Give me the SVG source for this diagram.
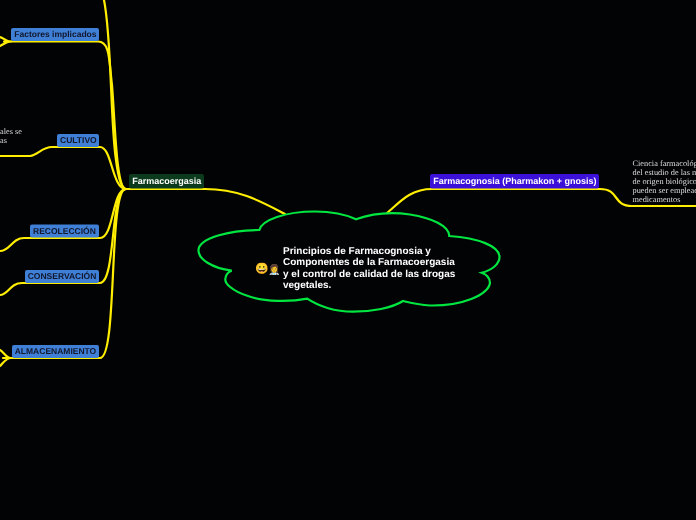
<svg xmlns="http://www.w3.org/2000/svg" width="696" height="520" viewBox="0 0 696 520" text-rendering="geometricPrecision">
<style>
.c{fill:none;stroke:#ffee00;stroke-width:2.2;stroke-linecap:round}
.l{fill:#3f7fd6}
.t{font-family:"Liberation Sans",Arial,sans-serif;font-size:9px;font-weight:700}
.d{fill:#12172b;font-size:8.5px}
.s{font-family:"Liberation Serif","Times New Roman",serif;font-size:8.3px;fill:#dcdcdc}
</style>
<defs><filter id="g" x="0" y="0" width="696" height="520" filterUnits="userSpaceOnUse"><feOffset dx="0" dy="0"/></filter></defs>
<rect width="696" height="520" fill="#020305"/>
<g id="connectors">
<path class="c" d="M104 0C112 40 110 120 116 160C118 176 121 189 126 189"/>
<path class="c" d="M11 41.500H98C110 41.500 109 60 112 85C115 120 116 189 126 189"/>
<path class="c" d="M0 156H30C38 155 42 147 52 147H100C112 147 112 189 126 189"/>
<path class="c" d="M0 251C10 251 12 238 24 238H100C114 238 112 189 126 189"/>
<path class="c" d="M0 295C8 295 10 283 22 283H100C116 283 110 189 126 189"/>
<path class="c" d="M11 358H100C118 358 108 189 126 189"/>
<path class="c" d="M126 189H205C240 189 262 202 285 214"/>
<path class="c" d="M387 213C400 202 410 189 432 189H600C620 189 612 206 632 206H696"/>
<path class="c" d="M11 41.500C6 41.500 4 38 0 37M11 41.500C6 41.500 4 44 0 46M11 41.500H4"/>
<path class="c" d="M11 358C6 358 4 352 0 350M11 358C6 358 4 362 0 366M11 358H3"/>
</g>
<g id="central">
<path d="M259.300 230C262 220 285 211.500 315 211.500C332 211.500 347 215 356 219.300C372 213.500 392 212 410 214.500C432 218 449 226 449.300 236C478 238 499.500 246 499.500 257C499.500 264 492 270 481.700 272.700C488 275 490 279 490 283C488 295 462 306 430 305.500C420 305 411 303 403 301C392 308 372 311.700 353 311.700C335 311.700 318 306 307.300 298.700C290 302 265 302 248 296C232 291 224 283 225.500 278C226 274 228 272 231.700 270.700C212 268 198 259 198.500 250C199 238 230 230 259.300 230Z" fill="#020305" stroke="#00e640" stroke-width="2.200"/>
<text x="255" y="272" font-size="11" font-family="'Noto Color Emoji','Liberation Sans',sans-serif">😀</text>
<text x="268.500" y="272.500" font-size="10" font-family="'Noto Color Emoji','Liberation Sans',sans-serif">👩‍⚕️</text>
<g font-family="'Liberation Sans',Arial,sans-serif" font-size="10px" font-weight="700" fill="#fff" filter="url(#g)">
<text x="283" y="254">Principios de Farmacognosia y</text>
<text x="283" y="265.400">Componentes de la Farmacoergasia</text>
<text x="283" y="276.800">y el control de calidad de las drogas</text>
<text x="283" y="288.200">vegetales.</text>
</g>
</g>
<g filter="url(#g)">
<g id="n-farmacoergasia"><rect x="129" y="174" width="75" height="14.500" rx="2" fill="#0b3a1c"/><text class="t" x="132.300" y="184" fill="#fff">Farmacoergasia</text></g>
<g id="n-farmacognosia"><rect x="430" y="174" width="169" height="14.500" rx="2" fill="#3b10d8"/><text class="t" x="433.300" y="184" fill="#fff">Farmacognosia (Pharmakon + gnosis)</text></g>
<g id="n-factores"><rect class="l" x="11" y="28" width="88" height="13" rx="2"/><text class="t d" x="14.300" y="37">Factores implicados</text></g>
<g id="n-cultivo"><rect class="l" x="57" y="134" width="42" height="13" rx="2"/><text class="t d" x="60" y="143">CULTIVO</text></g>
<g id="n-recoleccion"><rect class="l" x="30" y="224.500" width="69" height="13" rx="2"/><text class="t d" x="33" y="233.500">RECOLECCIÓN</text></g>
<g id="n-conservacion"><rect class="l" x="25" y="270" width="74" height="13" rx="2"/><text class="t d" x="27.700" y="279">CONSERVACIÓN</text></g>
<g id="n-almacenamiento"><rect class="l" x="12" y="345" width="87" height="13" rx="2"/><text class="t d" x="14.700" y="354">ALMACENAMIENTO</text></g>
<g id="n-cultivo-note"><text class="s" x="0" y="134">ales se</text><text class="s" x="0" y="143">as</text></g>
<g id="n-ciencia">
<text class="s" x="632.500" y="166">Ciencia farmacológ</text>
<text class="s" x="632.500" y="175">del estudio de las m</text>
<text class="s" x="632.500" y="184">de origen biológico</text>
<text class="s" x="632.500" y="193">pueden ser emplead</text>
<text class="s" x="632.500" y="202">medicamentos</text>
</g>
</g>
</svg>
